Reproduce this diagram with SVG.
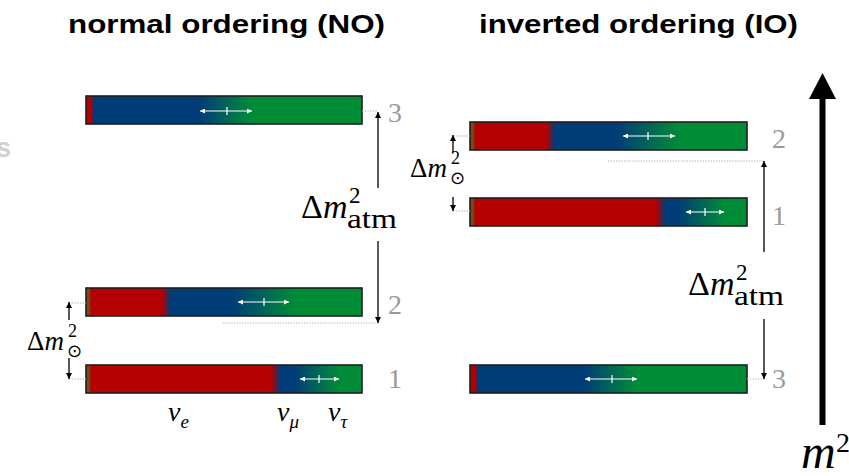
<svg xmlns="http://www.w3.org/2000/svg" width="849" height="476" viewBox="0 0 849 476">
  <style>
    .title { font-family: "Liberation Sans", Arial, sans-serif; font-weight: bold; font-size: 25px; fill: #000; }
    .ghost { font-family: "Liberation Sans", Arial, sans-serif; font-weight: bold; font-size: 27px; fill: #cfcfcf; }
    .bar { stroke: #1e1e1e; stroke-width: 1.6; }
    .lvl { font-family: "Liberation Serif", "Times New Roman", serif; font-size: 28px; fill: #9a9a9a; }
    .math { font-family: "Liberation Serif", "Times New Roman", serif; fill: #000; }
    .it { font-style: italic; }
    .sun { font-family: "DejaVu Sans", sans-serif; }
    .conn { stroke: #000; stroke-width: 1.3; fill: none; }
    .dots { stroke: #b5b5b5; stroke-width: 1; stroke-dasharray: 1.5 1.2; fill: none; }
    .inner { stroke: #fff; stroke-width: 1.2; fill: none; }
  </style>
  <defs>
    <!-- flavour content of mass state 3 -->
    <linearGradient id="mix3" x1="0" y1="0" x2="1" y2="0">
      <stop offset="0" stop-color="#b40000"/>
      <stop offset="0.021" stop-color="#b40000"/>
      <stop offset="0.026" stop-color="#003c78"/>
      <stop offset="0.41" stop-color="#003c78"/>
      <stop offset="0.6" stop-color="#008c37"/>
      <stop offset="1" stop-color="#008c37"/>
    </linearGradient>
    <!-- flavour content of mass state 2 -->
    <linearGradient id="mix2" x1="0" y1="0" x2="1" y2="0">
      <stop offset="0" stop-color="#7a4a12"/>
      <stop offset="0.012" stop-color="#7a4a12"/>
      <stop offset="0.018" stop-color="#b40000"/>
      <stop offset="0.276" stop-color="#b40000"/>
      <stop offset="0.306" stop-color="#003c78"/>
      <stop offset="0.525" stop-color="#003c78"/>
      <stop offset="0.76" stop-color="#008c37"/>
      <stop offset="1" stop-color="#008c37"/>
    </linearGradient>
    <!-- flavour content of mass state 1 -->
    <linearGradient id="mix1" x1="0" y1="0" x2="1" y2="0">
      <stop offset="0" stop-color="#7a4a12"/>
      <stop offset="0.012" stop-color="#7a4a12"/>
      <stop offset="0.018" stop-color="#b40000"/>
      <stop offset="0.672" stop-color="#b40000"/>
      <stop offset="0.705" stop-color="#003c78"/>
      <stop offset="0.75" stop-color="#003c78"/>
      <stop offset="0.92" stop-color="#008c37"/>
      <stop offset="1" stop-color="#008c37"/>
    </linearGradient>
    <marker id="head" viewBox="0 0 8 8" refX="8" refY="4" markerWidth="6" markerHeight="6" markerUnits="userSpaceOnUse" orient="auto-start-reverse">
      <path d="M0,0 L8,4 L0,8 Z" fill="#000"/>
    </marker>
    <marker id="whead" viewBox="0 0 8 8" refX="8" refY="4" markerWidth="5" markerHeight="5" markerUnits="userSpaceOnUse" orient="auto-start-reverse">
      <path d="M0,0 L8,4 L0,8 Z" fill="#fff"/>
    </marker>
  </defs>

  <rect width="849" height="476" fill="#fff"/>

  <text class="title" x="68" y="33" textLength="317" lengthAdjust="spacingAndGlyphs">normal ordering (NO)</text>
  <text class="title" x="479" y="33" textLength="319" lengthAdjust="spacingAndGlyphs">inverted ordering (IO)</text>
  <text class="ghost" x="-4" y="157">s</text>

  <!-- normal ordering levels -->
  <g id="no-m3">
    <rect class="bar" x="86" y="96" width="276" height="28" fill="url(#mix3)"/>
    <path class="inner" d="M200,111 H252" marker-start="url(#whead)" marker-end="url(#whead)"/>
    <path class="inner" d="M227,107 V115"/>
    <text class="lvl" x="388" y="122">3</text>
  </g>
  <g id="no-m2">
    <rect class="bar" x="86" y="288" width="276" height="28" fill="url(#mix2)"/>
    <path class="inner" d="M238,302 H289" marker-start="url(#whead)" marker-end="url(#whead)"/>
    <path class="inner" d="M264,298 V306"/>
    <text class="lvl" x="388" y="314">2</text>
  </g>
  <g id="no-m1">
    <rect class="bar" x="86" y="365" width="276" height="28" fill="url(#mix1)"/>
    <path class="inner" d="M300,379 H339" marker-start="url(#whead)" marker-end="url(#whead)"/>
    <path class="inner" d="M319,375 V383"/>
    <text class="lvl" x="388" y="388">1</text>
  </g>

  <!-- inverted ordering levels -->
  <g id="io-m2">
    <rect class="bar" x="470" y="122" width="277" height="28" fill="url(#mix2)"/>
    <path class="inner" d="M623,136 H675" marker-start="url(#whead)" marker-end="url(#whead)"/>
    <path class="inner" d="M648,132 V140"/>
    <text class="lvl" x="772" y="148">2</text>
  </g>
  <g id="io-m1">
    <rect class="bar" x="470" y="198" width="277" height="28" fill="url(#mix1)"/>
    <path class="inner" d="M686,212 H724" marker-start="url(#whead)" marker-end="url(#whead)"/>
    <path class="inner" d="M705,208 V216"/>
    <text class="lvl" x="772" y="225">1</text>
  </g>
  <g id="io-m3">
    <rect class="bar" x="470" y="365" width="277" height="28" fill="url(#mix3)"/>
    <path class="inner" d="M585,379 H637" marker-start="url(#whead)" marker-end="url(#whead)"/>
    <path class="inner" d="M612,375 V383"/>
    <text class="lvl" x="772" y="388">3</text>
  </g>

  <!-- splittings -->
  <g id="connectors">
    <path class="dots" d="M362,111 H378"/>
    <path class="dots" d="M223,323 H378"/>
    <path class="conn" d="M378,188 V112" marker-end="url(#head)"/>
    <path class="conn" d="M378,241 V323" marker-end="url(#head)"/>

    <path class="dots" d="M69,303 H86 M69,379 H86"/>
    <path class="conn" d="M69,320 V302" marker-end="url(#head)"/>
    <path class="conn" d="M69,358 V379" marker-end="url(#head)"/>

    <path class="dots" d="M453,136 H470 M453,211 H470"/>
    <path class="conn" d="M453,153 V135" marker-end="url(#head)"/>
    <path class="conn" d="M453,197 V211" marker-end="url(#head)"/>

    <path class="dots" d="M608,161 H764"/>
    <path class="dots" d="M747,379 H764"/>
    <path class="conn" d="M764,252 V161" marker-end="url(#head)"/>
    <path class="conn" d="M764,319 V379" marker-end="url(#head)"/>

    <!-- mass axis -->
    <rect x="819.5" y="98" width="6" height="327" fill="#000"/>
    <path d="M822.5,73 L836,99 L809,99 Z" fill="#000"/>
  </g>

  <!-- splitting labels: base, superscript and subscript in one text run -->
  <g id="lbl-atm-no">
    <text class="math" x="301" y="218" font-size="34">Δ<tspan class="it">m</tspan><tspan x="349" y="203" font-size="23">2</tspan><tspan x="347" y="228" font-size="27" textLength="50" lengthAdjust="spacingAndGlyphs">atm</tspan></text>
  </g>
  <g id="lbl-atm-io">
    <text class="math" x="688" y="295" font-size="34">Δ<tspan class="it">m</tspan><tspan x="736" y="280" font-size="23">2</tspan><tspan x="734" y="305" font-size="27" textLength="50" lengthAdjust="spacingAndGlyphs">atm</tspan></text>
  </g>
  <g id="lbl-sol-no">
    <text class="math" x="27" y="350" font-size="27">Δ<tspan class="it">m</tspan><tspan x="68" y="337" font-size="18">2</tspan><tspan class="sun" x="67" y="357" font-size="18">⊙</tspan></text>
  </g>
  <g id="lbl-sol-io">
    <text class="math" x="410" y="177" font-size="27">Δ<tspan class="it">m</tspan><tspan x="451" y="164" font-size="18">2</tspan><tspan class="sun" x="450" y="184" font-size="18">⊙</tspan></text>
  </g>

  <!-- flavour labels -->
  <g id="flavours">
    <text class="math it" x="168" y="421" font-size="28">ν<tspan font-size="19" dy="7">e</tspan></text>
    <text class="math it" x="277" y="421" font-size="28">ν<tspan font-size="19" dy="7">μ</tspan></text>
    <text class="math it" x="328" y="421" font-size="28">ν<tspan font-size="19" dy="7">τ</tspan></text>
  </g>

  <g id="axis-label">
    <text class="math it" x="801" y="468" font-size="48">m<tspan class="math" font-style="normal" x="836" y="452" font-size="28">2</tspan></text>
  </g>
</svg>
